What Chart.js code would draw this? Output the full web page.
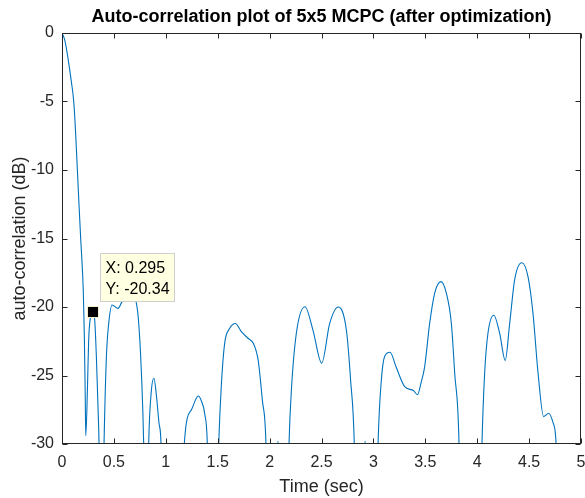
<!DOCTYPE html>
<html>
<head>
<meta charset="utf-8">
<script src="https://cdn.jsdelivr.net/npm/chart.js@4.4.1/dist/chart.umd.min.js"></script>
<style>
  html, body { margin: 0; padding: 0; background: #fff; }
  canvas { display: block; }
</style>
</head>
<body>
<canvas id="acChart" width="585" height="498"></canvas>
<script>
// values (time in sec, auto-correlation in dB)
// points below -30 dB are outside the axes and get clipped
var timeSec = [
    0, 0.026, 0.058, 0.09, 0.113, 0.132, 0.148, 0.164, 0.18, 0.205, 0.215, 0.223, 0.229,
    0.245, 0.257, 0.275, 0.295, 0.315, 0.331, 0.347, 0.357, 0.38,
    0.405, 0.428, 0.45, 0.482, 0.54, 0.572, 0.62, 0.66, 0.70, 0.735, 0.765, 0.787, 0.81,
    0.835, 0.861, 0.886, 0.91, 0.935, 0.954, 0.98, 1.08, 1.15,
    1.178, 1.247, 1.313, 1.345, 1.375, 1.40, 1.43, 1.48,
    1.51, 1.536, 1.567, 1.616, 1.67, 1.728, 1.795, 1.843, 1.89, 1.93, 1.965, 1.99,
    2.08, 2.16,
    2.187, 2.21, 2.258, 2.341, 2.418, 2.502, 2.579, 2.662, 2.74, 2.78, 2.816, 2.84,
    2.92, 3.02,
    3.045, 3.077, 3.109, 3.16, 3.22, 3.30, 3.385, 3.425, 3.46, 3.494, 3.542, 3.59,
    3.651, 3.703, 3.751, 3.783, 3.825, 3.85, 3.95, 4.02,
    4.046, 4.072, 4.104, 4.16, 4.216, 4.27, 4.313, 4.361, 4.43, 4.49, 4.538, 4.586,
    4.64, 4.69, 4.733, 4.76, 4.79, 4.9, 5.0
];
var autocorrDb = [
    0, -0.5, -1.85, -3.55, -5, -7.4, -10, -12.55, -15, -18.8, -22, -26, -29.4,
    -26, -22.4, -20.7, -20.34, -20.95, -23.6, -27.3, -30, -42,
    -30, -23.6, -21.2, -19.85, -20.1, -19.7, -19.0, -18.8, -19.2, -20.8, -24.8, -30, -42,
    -30, -26.1, -25.2, -26.5, -28.5, -30, -42, -45, -40,
    -30, -27.5, -26.5, -26.9, -27.8, -30, -42, -40,
    -30, -25.6, -22.65, -21.55, -21.2, -21.8, -22.3, -22.65, -23.9, -26.8, -30, -40,
    -29.8, -40,
    -30, -26.06, -21.9, -19.98, -21.7, -24.1, -21.2, -20.0, -21.7, -25.3, -30, -40,
    -29.8, -40,
    -30, -25.3, -23.6, -23.3, -24.4, -25.8, -26.1, -26.4, -25.5, -24.35, -21.2, -19.0,
    -18.15, -19.0, -21.2, -24.8, -30, -42, -45, -40,
    -30, -24.8, -21.9, -20.6, -21.9, -23.9, -21.2, -18.0, -16.77, -17.8, -20.5, -24.8,
    -28.0, -27.76, -28.5, -30, -42, -45, -45
];

// data tip shown on the plot
var tipX = 0.295;
var tipY = -20.34;

var xMin = 0, xMax = 5, xStep = 0.5;
var yMin = -30, yMax = 0, yStep = 5;

var axisColor = '#262626';
var fontFamily = '"Liberation Sans", Arial, Helvetica, sans-serif';

var points = [];
for (var i = 0; i < timeSec.length; i++) {
    points.push({ x: timeSec[i], y: autocorrDb[i] });
}

// MATLAB style box with inward ticks on all four sides
var boxPlugin = {
    id: 'matlabBox',
    afterDraw: function(chart) {
        var ctx = chart.ctx;
        var a = chart.chartArea;
        var xs = chart.scales.x;
        var ys = chart.scales.y;
        var tl = 5;
        ctx.save();
        ctx.strokeStyle = axisColor;
        ctx.lineWidth = 1;
        var L = Math.round(a.left) + 0.5, R = Math.round(a.right) - 0.5;
        var T = Math.round(a.top) + 0.5, B = Math.round(a.bottom) - 0.5;
        ctx.strokeRect(L, T, R - L, B - T);
        ctx.beginPath();
        xs.ticks.forEach(function(t) {
            var px = Math.round(xs.getPixelForValue(t.value)) + 0.5;
            ctx.moveTo(px, B); ctx.lineTo(px, B - tl);
            ctx.moveTo(px, T); ctx.lineTo(px, T + tl);
        });
        ys.ticks.forEach(function(t) {
            var py = Math.round(ys.getPixelForValue(t.value)) + 0.5;
            ctx.moveTo(L, py); ctx.lineTo(L + tl, py);
            ctx.moveTo(R, py); ctx.lineTo(R - tl, py);
        });
        ctx.stroke();
        ctx.restore();
    }
};

// the data tip box and its black marker
var dataTipPlugin = {
    id: 'dataTip',
    afterDatasetsDraw: function(chart) {
        var ctx = chart.ctx;
        var px = Math.round(chart.scales.x.getPixelForValue(tipX));
        var py = Math.round(chart.scales.y.getPixelForValue(tipY));
        ctx.save();
        // marker
        ctx.fillStyle = '#000';
        ctx.fillRect(px - 5.5, py - 5.5, 11, 11);
        ctx.strokeStyle = '#f3f0c8';
        ctx.lineWidth = 1;
        ctx.strokeRect(px - 5.5, py - 5.5, 11, 11);
        // box
        var bx = px + 7.5, by = py - 58.5, bw = 74, bh = 48;
        ctx.fillStyle = '#ffffe1';
        ctx.fillRect(bx, by, bw, bh);
        ctx.strokeStyle = '#cfcfcf';
        ctx.strokeRect(bx, by, bw, bh);
        ctx.fillStyle = '#000';
        ctx.font = '16px ' + fontFamily;
        ctx.textBaseline = 'middle';
        ctx.textAlign = 'left';
        ctx.fillText('X: ' + tipX, bx + 5, by + 15);
        ctx.fillText('Y: ' + tipY, bx + 5, by + 36);
        ctx.restore();
    }
};

function createChart() {
    var canvas = document.getElementById('acChart');
    return new Chart(canvas, {
        type: 'line',
        data: {
            datasets: [{
                data: points,
                borderColor: '#0072BD',
                borderWidth: 1.1,
                pointRadius: 0,
                fill: false,
                cubicInterpolationMode: 'monotone'
            }]
        },
        options: {
            responsive: false,
            animation: false,
            events: [],
            layout: { padding: { left: 0, right: 4, top: 0, bottom: 0 } },
            plugins: {
                legend: { display: false },
                tooltip: { enabled: false },
                title: {
                    display: true,
                    fullSize: false,  // centre it over the plot area like MATLAB does
                    text: 'Auto-correlation plot of 5x5 MCPC (after optimization)',
                    color: '#000',
                    font: { family: fontFamily, size: 18, weight: 'bold', lineHeight: 1.2 },
                    padding: { top: 6, bottom: 5.4 }
                }
            },
            scales: {
                x: {
                    type: 'linear',
                    min: xMin,
                    max: xMax,
                    grid: { display: false, drawTicks: false, tickLength: 0 },
                    border: { display: false },
                    ticks: {
                        stepSize: xStep,
                        color: axisColor,
                        padding: 9,
                        maxRotation: 0,
                        font: { family: fontFamily, size: 16 },
                        callback: function(value) { return String(Number(value.toFixed(1))); }
                    },
                    title: {
                        display: true,
                        text: 'Time (sec)',
                        color: axisColor,
                        font: { family: fontFamily, size: 18, lineHeight: 1.2 },
                        padding: { top: 0, bottom: 0 }
                    },
                    afterFit: function(scale) {
                        scale.height = 54;
                        scale.paddingLeft = 0;
                        scale.paddingRight = 0;
                    }
                },
                y: {
                    type: 'linear',
                    min: yMin,
                    max: yMax,
                    grid: { display: false, drawTicks: false, tickLength: 0 },
                    border: { display: false },
                    ticks: {
                        stepSize: yStep,
                        color: axisColor,
                        padding: 8,
                        font: { family: fontFamily, size: 16 }
                    },
                    title: {
                        display: true,
                        text: 'auto-correlation (dB)',
                        color: axisColor,
                        font: { family: fontFamily, size: 18, lineHeight: 1.2 },
                        padding: { top: 9, bottom: 0 }
                    },
                    afterFit: function(scale) {
                        scale.width = 62;
                        scale.paddingTop = 0;
                        scale.paddingBottom = 0;
                    }
                }
            }
        },
        plugins: [boxPlugin, dataTipPlugin]
    });
}

createChart();
</script>
</body>
</html>
